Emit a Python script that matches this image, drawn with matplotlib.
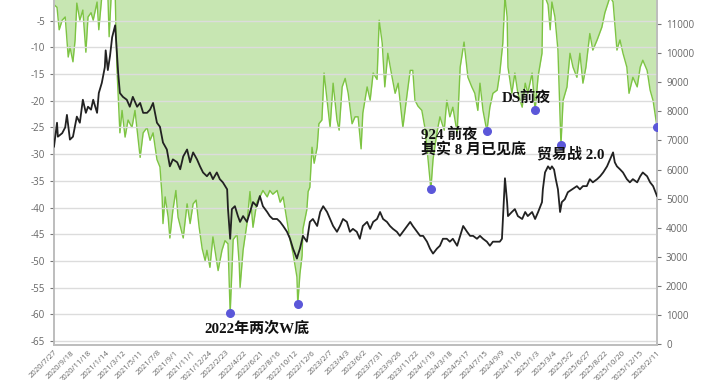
import numpy as np
import matplotlib
matplotlib.use("Agg")
import matplotlib.pyplot as plt

plt.rcParams['axes.unicode_minus'] = False
plt.rcParams['font.family'] = ['Open Sans', 'DejaVu Sans']

# x tick labels, one every 40 trading days
date_labels = ['2020/7/27', '2020/9/18', '2020/11/18', '2021/1/14', '2021/3/12', '2021/5/11',
               '2021/7/8', '2021/9/1', '2021/11/1', '2021/12/24', '2022/2/23', '2022/4/22',
               '2022/6/21', '2022/8/16', '2022/10/12', '2022/12/6', '2023/2/7', '2023/4/3',
               '2023/6/2', '2023/7/31', '2023/9/26', '2023/11/22', '2024/1/19', '2024/3/18',
               '2024/5/17', '2024/7/15', '2024/9/9', '2024/11/6', '2025/1/3', '2025/3/4',
               '2025/5/2', '2025/6/27', '2025/8/22', '2025/10/20', '2025/12/15', '2026/2/11']
tick_step = 40

# drawdown (%) - trading day index / value
dd_day = [0, 7, 12, 19, 26, 33, 37, 44, 49, 53, 60, 67, 74, 79, 86, 91, 100, 104, 111, 118,
          125, 128, 133, 142, 146, 153, 158, 165, 172, 181, 188, 200, 207, 216, 223, 230, 239,
          246, 251, 253, 258, 265, 269, 276, 283, 288, 300, 309, 316, 323, 330, 337, 344, 351,
          355, 362, 369, 381, 390, 397, 404, 409, 416, 425, 430, 432, 439, 448, 455, 462, 471,
          478, 485, 495, 501, 508, 518, 525, 532, 541, 548, 555, 564, 566, 571, 576, 578, 587,
          590, 594, 599, 604, 611, 615, 622, 627, 634, 641, 648, 657, 662, 669, 676, 683, 692,
          699, 706, 713, 717, 727, 734, 741, 750, 755, 762, 768, 775, 785, 792, 799, 810, 820,
          827, 833, 838, 845, 854, 861, 868, 875, 880, 889, 896, 906, 912, 919, 926, 936, 943,
          952, 961, 970, 977, 984, 989, 996, 1005, 1012, 1019, 1029, 1035, 1042, 1047, 1052,
          1054, 1063, 1070, 1077, 1087, 1094, 1100, 1110, 1117, 1124, 1133, 1135, 1140, 1147,
          1152, 1156, 1163, 1170, 1177, 1182, 1191, 1198, 1205, 1214, 1221, 1228, 1235, 1244,
          1251, 1261, 1272, 1279, 1291, 1298, 1307, 1314, 1321, 1330, 1335, 1344, 1354, 1361,
          1367, 1377, 1384, 1391, 1400]
dd_val = [-2.0, -2.5, -6.7, -4.9, -4.3, -11.8, -9.9, -12.7, -8.6, -1.7, -4.9, -3.0, -10.9, -4.3,
          -3.5, -4.9, -1.5, -6.7, -0.5, -0.3, 0.0, -8.0, 0.0, 0.0, -13.7, -26.0, -21.8, -26.8,
          -23.6, -25.0, -21.8, -30.6, -26.0, -25.0, -27.4, -26.0, -31.0, -32.4, -38.0, -43.0,
          -38.0, -41.8, -45.7, -40.5, -36.8, -41.8, -45.7, -39.3, -43.0, -39.3, -38.6, -43.7,
          -47.7, -50.0, -48.0, -51.2, -45.5, -51.8, -48.0, -46.2, -46.8, -59.8, -46.0, -45.0,
          -50.5, -55.0, -48.0, -43.0, -37.0, -43.7, -39.0, -38.0, -36.8, -38.0, -36.8, -37.5,
          -36.8, -39.0, -38.0, -42.5, -46.0, -48.6, -53.0, -58.1, -52.4, -49.0, -44.0, -40.4,
          -37.0, -36.2, -28.7, -31.7, -28.7, -24.3, -23.6, -14.8, -19.9, -25.0, -16.7, -23.6,
          -25.5, -17.4, -15.8, -18.6, -24.3, -23.0, -23.0, -29.0, -22.3, -17.4, -19.9, -14.8,
          -16.0, -4.9, -9.2, -17.4, -11.1, -15.6, -18.6, -16.7, -25.0, -18.6, -14.3, -14.3,
          -19.9, -21.0, -21.8, -25.0, -30.6, -36.6, -31.0, -26.0, -23.0, -25.5, -19.9, -23.0,
          -21.2, -26.0, -13.7, -9.0, -15.6, -17.4, -18.6, -21.8, -16.7, -21.8, -25.7, -21.2,
          -18.6, -18.0, -14.8, -9.2, -0.5, -4.3, -13.7, -18.6, -14.8, -18.6, -21.2, -16.7,
          -18.6, -14.8, -21.8, -15.4, -11.1, -0.5, -0.5, -2.0, -6.7, -1.5, -4.3, -10.5, -28.3,
          -19.9, -17.4, -11.1, -13.7, -15.6, -11.1, -16.7, -13.7, -7.4, -10.5, -8.6, -6.2,
          -3.5, -0.5, -1.5, -10.5, -8.6, -11.1, -13.7, -18.6, -15.6, -17.4, -13.7, -12.4,
          -14.3, -18.0, -20.0, -24.9]

# index level (right axis)
px_day = [0, 7, 9, 19, 26, 30, 37, 44, 53, 60, 67, 74, 79, 86, 91, 100, 104, 111, 118, 120,
          125, 130, 135, 142, 146, 149, 153, 160, 169, 176, 183, 193, 200, 207, 216, 223, 230,
          239, 246, 253, 262, 269, 276, 286, 293, 300, 309, 316, 323, 332, 339, 346, 355, 362,
          369, 378, 385, 392, 402, 404, 409, 413, 420, 427, 432, 439, 448, 455, 462, 471, 478,
          485, 495, 501, 508, 518, 525, 532, 541, 548, 555, 564, 566, 571, 578, 587, 594, 601,
          611, 618, 625, 634, 641, 648, 657, 664, 671, 680, 687, 694, 703, 710, 717, 727, 734,
          741, 750, 757, 764, 773, 780, 787, 796, 803, 810, 820, 827, 833, 843, 850, 857, 866,
          873, 880, 889, 896, 903, 912, 919, 926, 936, 943, 950, 959, 966, 973, 982, 989, 996,
          1005, 1012, 1019, 1029, 1035, 1040, 1042, 1047, 1052, 1054, 1063, 1070, 1077, 1087,
          1094, 1100, 1110, 1117, 1124, 1133, 1135, 1140, 1147, 1152, 1156, 1161, 1165, 1170,
          1175, 1179, 1186, 1193, 1203, 1214, 1221, 1228, 1237, 1244, 1251, 1261, 1268, 1275,
          1284, 1291, 1298, 1302, 1307, 1314, 1321, 1330, 1337, 1344, 1354, 1361, 1367, 1377,
          1384, 1391, 1400]
px_val = [6790, 7610, 7130, 7250, 7450, 7880, 7030, 7130, 7820, 7610, 8400, 7950, 8160, 8060,
          8400, 7950, 8630, 8980, 9520, 10100, 9420, 9900, 10550, 10960, 10000, 9320, 8630,
          8500, 8400, 8160, 8500, 8160, 8290, 7950, 7950, 8060, 8290, 7610, 7470, 6930, 6690,
          6110, 6350, 6250, 6010, 6450, 6690, 6250, 6590, 6350, 6110, 5900, 5770, 5900, 5670,
          5900, 5670, 5560, 5320, 4640, 3620, 4640, 4740, 4400, 4200, 4400, 4200, 4540, 4880,
          4740, 5090, 4740, 4540, 4400, 4300, 4300, 4200, 4060, 3860, 3620, 3280, 2940, 3050,
          3280, 3720, 3520, 4200, 4300, 4060, 4540, 4740, 4540, 4300, 4060, 3860, 4060, 4300,
          4200, 3860, 3960, 3860, 3620, 4060, 4200, 3960, 4200, 4300, 4540, 4300, 4200, 4060,
          3960, 3860, 3720, 3860, 4060, 4200, 4060, 3860, 3720, 3720, 3520, 3280, 3110, 3280,
          3380, 3620, 3620, 3520, 3620, 3380, 3720, 4060, 3860, 3720, 3720, 3620, 3720, 3620,
          3520, 3380, 3520, 3520, 3520, 3620, 4200, 5700, 4880, 4400, 4540, 4640, 4400, 4300,
          4540, 4400, 4540, 4300, 4540, 4880, 5320, 5900, 6110, 6010, 6110, 6000, 5670, 5320,
          4540, 4880, 4980, 5220, 5320, 5430, 5320, 5430, 5430, 5670, 5560, 5670, 5770, 5900,
          6110, 6350, 6590, 6250, 6110, 6010, 5900, 5670, 5560, 5670, 5560, 5770, 5900, 5770,
          5560, 5430, 5090]

# marked lows and their notes
low_day = [409, 566, 875, 1005, 1117, 1177, 1400]
low_val = [-59.8, -58.1, -36.6, -25.7, -21.8, -28.3, -24.9]
notes = [('2022年两次W底', 471, -62.6, 'center'),
         ('924 前夜\n其实 8 月已见底', 852, -27.8, 'left'),
         ('DS前夜', 1040, -19.5, 'left'),
         ('贸易战 2.0', 1121, -30.0, 'left')]

fig = plt.figure(figsize=(7.2, 3.8), dpi=100)
ax = fig.add_axes([0.075, 0.092, 0.8375, 0.908])
ax2 = ax.twinx()

dd_x = np.array(dd_day)
dd_y = np.array(dd_val)
ax.fill_between(dd_x, dd_y, 0, color='#c7e6b2', lw=0, zorder=1)
ax.plot(dd_x, dd_y, color='#7dc443', lw=1.0, zorder=2)

ax.set_ylim(-65.75, -1.12)
ax.set_yticks(np.arange(-65, 0, 5))
ax.set_xlim(0, 1400)
ax.set_xticks(np.arange(len(date_labels)) * tick_step)
ax.set_xticklabels(date_labels, rotation=45, ha='right', rotation_mode='anchor')
ax.grid(axis='y', color='#dcdcdc', lw=1)
ax.set_axisbelow(False)

ax2.plot(px_day, px_val, color='#222222', lw=1.3, zorder=3)
ax2.set_ylim(-34, 11830)
ax2.set_yticks(np.arange(0, 11001, 1000))

ax2.scatter(low_day, low_val, s=30, color='#5b57d9', zorder=5, transform=ax.transData)
for txt, xx, yy, ha in notes:
    ax2.text(xx, yy, txt, transform=ax.transData, ha=ha, va='center', fontsize=10.8,
             fontweight='bold', family=['Liberation Serif', 'Noto Sans CJK SC'],
             color='#111111', linespacing=0.95, zorder=6)

for a in (ax, ax2):
    a.spines['top'].set_visible(False)
    for s in ('left', 'right', 'bottom'):
        a.spines[s].set_color('#bdbdbd')
        a.spines[s].set_linewidth(1.2)
    a.tick_params(colors='#777777', labelsize=7, length=3, width=0.8)
    for lab in a.get_yticklabels() + a.get_xticklabels():
        lab.set_color('#666666')
ax.tick_params(axis='x', labelsize=5.6, length=0, pad=3)

fig.savefig('out.png', dpi=100)
